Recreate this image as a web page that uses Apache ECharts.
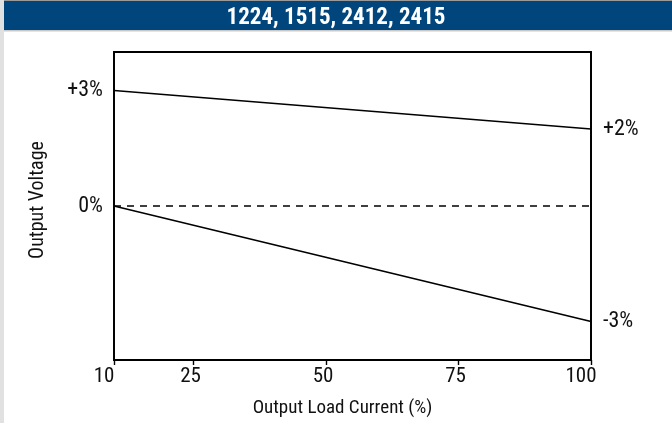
<!DOCTYPE html>
<html>
<head>
<meta charset="utf-8">
<script src="https://cdn.jsdelivr.net/npm/echarts@6/dist/echarts.min.js"></script>
<style>
html,body{margin:0;padding:0;background:#fff;}
#c{width:672px;height:423px;}
</style>
</head>
<body>
<div id="c"></div>
<script>
const titleText = '1224, 1515, 2412, 2415';
const loadPct = [10, 100];
const upperLimit = [3, 2];
const lowerLimit = [0, -3];
const nominal = [0, 0];
const xTickValues = [10, 25, 50, 75, 100];
const leftLabels = {3: '+3%', 0: '0%'};
const rightLabels = {2: '+2%', '-3': '-3%'};

const FONT = '"Roboto Condensed", "DejaVu Sans Condensed", sans-serif';

const chart = echarts.init(document.getElementById('c'), null, {renderer: 'canvas'});
const pairs = a => loadPct.map((x, i) => [x, a[i]]);

chart.setOption({
  animation: false,
  backgroundColor: '#fff',
  graphic: [
    {type: 'rect', shape: {x: 0, y: 0, width: 672, height: 1}, style: {fill: '#9a9a9a'}, z: 0},
    {type: 'rect', shape: {x: 0, y: 1, width: 672, height: 29}, style: {fill: '#00457c'}, z: 0},
    {type: 'rect', shape: {x: 0, y: 30, width: 672, height: 1.5}, style: {fill: '#c9c9c9'}, z: 0},
    {type: 'rect', shape: {x: 0, y: 0, width: 4, height: 423}, style: {fill: '#e1e1e1'}, z: 1}
  ],
  title: {
    text: titleText,
    left: 'center',
    top: 2,
    textStyle: {color: '#fff', fontFamily: FONT, fontWeight: 'bold', fontSize: 23}
  },
  grid: {left: 114, right: 81, top: 52, bottom: 62, show: true, borderColor: '#000', borderWidth: 1.8, backgroundColor: 'transparent'},
  xAxis: {
    type: 'value', min: 10, max: 100,
    name: 'Output Load Current (%)', nameLocation: 'middle', nameGap: 39,
    nameTextStyle: {color: '#111', fontFamily: FONT, fontSize: 19, padding: [0, 20, 0, 0]},
    axisLine: {show: true, onZero: false, lineStyle: {color: '#000', width: 1.8}},
    axisTick: {show: true, customValues: xTickValues, length: 5, lineStyle: {color: '#000', width: 1.4}},
    axisLabel: {
      customValues: xTickValues, color: '#111', fontFamily: FONT, fontSize: 21, margin: 6,
      formatter: v => (v === 10 || v === 100) ? '{e|' + v + '}' : '{m|' + v + '}',
      rich: {
        e: {fontFamily: FONT, fontSize: 21, color: '#111', padding: [0, 20, 0, 0]},
        m: {fontFamily: FONT, fontSize: 21, color: '#111', padding: [0, 6, 0, 0]}
      }
    },
    splitLine: {show: false}
  },
  yAxis: [
    {
      type: 'value', min: -4, max: 4, interval: 1, position: 'left',
      name: 'Output Voltage', nameLocation: 'middle', nameGap: 66, nameRotate: 90,
      nameTextStyle: {color: '#111', fontFamily: FONT, fontSize: 20, padding: [0, 0, 0, 12]},
      axisLine: {show: true, onZero: false, lineStyle: {color: '#000', width: 1.8}},
      axisTick: {show: false},
      axisLabel: {color: '#111', fontFamily: FONT, fontSize: 22, margin: 11,
        formatter: v => leftLabels[v] !== undefined ? leftLabels[v] : ''},
      splitLine: {show: false}
    },
    {
      type: 'value', min: -4, max: 4, interval: 1, position: 'right',
      axisLine: {show: true, onZero: false, lineStyle: {color: '#000', width: 1.8}},
      axisTick: {show: false},
      axisLabel: {color: '#111', fontFamily: FONT, fontSize: 22, margin: 12,
        formatter: v => rightLabels[v] !== undefined ? rightLabels[v] : ''},
      splitLine: {show: false}
    }
  ],
  series: [
    {type: 'line', name: 'Upper limit', data: pairs(upperLimit), symbol: 'none', lineStyle: {color: '#000', width: 1.7}},
    {type: 'line', name: 'Lower limit', data: pairs(lowerLimit), symbol: 'none', lineStyle: {color: '#000', width: 1.7}},
    {type: 'line', name: 'Nominal', data: pairs(nominal), symbol: 'none', lineStyle: {color: '#000', width: 1.7, type: [7, 6]}}
  ]
});
</script>
</body>
</html>
